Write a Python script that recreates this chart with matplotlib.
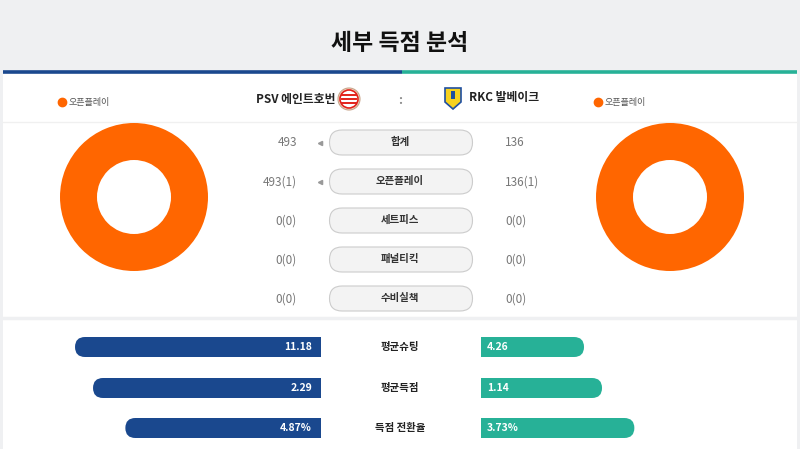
import matplotlib
matplotlib.use("Agg")
import matplotlib.pyplot as plt
from matplotlib.patches import FancyBboxPatch, Rectangle, Circle, Polygon

plt.rcParams['font.family'] = ['Noto Sans CJK KR', 'DejaVu Sans']

# --------------------------------- Data -------------------------------- #
title = "세부 득점 분석"
home_team = "PSV 에인트호번"
away_team = "RKC 발베이크"

# score breakdown (middle table)
categories = ["합계", "오픈플레이", "세트피스", "패널티킥", "수비실책"]
home_labels = ["493", "493(1)", "0(0)", "0(0)", "0(0)"]
away_labels = ["136", "136(1)", "0(0)", "0(0)", "0(0)"]
arrow_rows = [True, True, False, False, False]   # little pointer next to home value

# donut data (goal types)
donut_types = ["오픈플레이", "세트피스", "패널티킥", "수비실책"]
home_donut = [493, 0, 0, 0]
away_donut = [136, 0, 0, 0]
donut_colors = ["#ff6600", "#2f6fbd", "#f4b400", "#8e8e8e"]

# average stats (bottom bars)
stat_names = ["평균슈팅", "평균득점", "득점 전환율"]
home_stats = [11.18, 2.29, 4.87]
away_stats = [4.26, 1.14, 3.73]
stat_fmt = ["{:.2f}", "{:.2f}", "{:.2f}%"]

# --------------------------------- Style -------------------------------- #
BLUE = "#1a488e"
TEAL = "#27b197"
BG = "#eff0f2"
BAR_MIN = 15      # px, minimum bar length
BAR_SCALE = 319   # px for a 100% share

fig = plt.figure(figsize=(8, 4.49), dpi=100)
fig.patch.set_facecolor(BG)
ax = fig.add_axes([0, 0, 1, 1])

# white panel
ax.add_patch(Rectangle((3, 73), 794, 380, facecolor="white", edgecolor="none", zorder=0))
# team coloured line
ax.plot([3, 402], [72, 72], color=BLUE, lw=2.6, solid_capstyle="butt", zorder=2)
ax.plot([402, 797], [72, 72], color=TEAL, lw=2.6, solid_capstyle="butt", zorder=2)
# separators
ax.plot([3, 797], [122, 122], color="#f0f0f0", lw=1, zorder=1)
ax.plot([3, 797], [317.5, 317.5], color="#eff0f2", lw=2.5, zorder=1)

ax.text(400, 43, title, ha="center", va="center", fontsize=16.5, fontweight="bold", color="#111111")

# header
ax.text(336, 99, home_team, ha="right", va="center", fontsize=8.5, fontweight="bold", color="#222222")
ax.text(400, 100, ":", ha="center", va="center", fontsize=9, fontweight="bold", color="#888888")
ax.text(469, 98, away_team, ha="left", va="center", fontsize=8.5, fontweight="bold", color="#222222")

# PSV badge (simple)
ax.add_patch(Circle((349, 99), 11, facecolor="#f3d9c8", edgecolor="#c9a58a", lw=0.8, zorder=3))
ax.add_patch(Circle((349, 99), 9, facecolor="white", edgecolor="#e2231a", lw=1.2, zorder=4))
for dy in (-4, 0, 4):
    ax.plot([342, 356], [99 + dy, 99 + dy], color="#e2231a", lw=1.4, zorder=5)
# RKC badge (simple shield)
ax.add_patch(Polygon([(445, 88), (461, 88), (461, 102), (453, 109), (445, 102)],
                     closed=True, facecolor="#f7d21e", edgecolor="#1f4fa0", lw=1.2, zorder=3))
ax.add_patch(Rectangle((451, 91), 4, 8, facecolor="#1f4fa0", edgecolor="none", zorder=4))

# donut legends
for x0 in (62, 598):
    ax.plot(x0, 102, "o", color=donut_colors[0], markersize=6, zorder=3)
    ax.text(x0 + 7, 102, donut_types[0], ha="left", va="center", fontsize=6.5, color="#555555")

# donuts
for cx, vals in ((134, home_donut), (670, away_donut)):
    sizes = [v for v in vals if v > 0]
    cols = [c for v, c in zip(vals, donut_colors) if v > 0]
    ax.pie(sizes, colors=cols, radius=74, center=(cx, 197), startangle=90, counterclock=False,
           wedgeprops=dict(width=37, edgecolor="none"), frame=True)

# middle table
row_y0, row_step = 143, 39
for i, cat in enumerate(categories):
    y = row_y0 + i * row_step
    ax.add_patch(FancyBboxPatch((342, y - 0.5), 118, 0, boxstyle="round,pad=12.5",
                                facecolor="#f3f3f3", edgecolor="#cccccc", lw=0.8, zorder=2))
    ax.text(400, y - 1, cat, ha="center", va="center", fontsize=7.5, fontweight="bold",
            color="#333333", zorder=3)
    ax.text(297, y, home_labels[i], ha="right", va="center", fontsize=8.5, color="#777777")
    ax.text(505, y, away_labels[i], ha="left", va="center", fontsize=8.5, color="#777777")
    if arrow_rows[i]:
        ax.plot(320, y, marker="<", color="#999999", markersize=3, zorder=3)

# bottom bars
bar_rows = [347, 388, 428]
bar_h = 20
r = bar_h / 2
for i, name in enumerate(stat_names):
    y = bar_rows[i]
    total = home_stats[i] + away_stats[i]
    lh = BAR_MIN + BAR_SCALE * home_stats[i] / total
    la = BAR_MIN + BAR_SCALE * away_stats[i] / total
    # home bar: rounded on the left end, square at the centre side
    ax.add_patch(FancyBboxPatch((321 - lh + r, y), lh - 2 * r, 0, boxstyle=f"round,pad={r}",
                                facecolor=BLUE, edgecolor="none", zorder=2))
    ax.barh(y, lh / 2, left=321 - lh / 2, height=bar_h, color=BLUE, zorder=2, snap=False)
    # away bar: rounded on the right end
    ax.add_patch(FancyBboxPatch((481 + r, y), la - 2 * r, 0, boxstyle=f"round,pad={r}",
                                facecolor=TEAL, edgecolor="none", zorder=2))
    ax.barh(y, la / 2, left=481, height=bar_h, color=TEAL, zorder=2, snap=False)

    ax.text(312, y, stat_fmt[i].format(home_stats[i]), ha="right", va="center", fontsize=7.5,
            fontweight="bold", color="white", zorder=3)
    ax.text(487, y, stat_fmt[i].format(away_stats[i]), ha="left", va="center", fontsize=7.5,
            fontweight="bold", color="white", zorder=3)
    ax.text(400, y, name, ha="center", va="center", fontsize=7.5, fontweight="bold", color="#222222")

ax.set_xlim(0, 800)
ax.set_ylim(449, 0)
ax.set_aspect("auto")
ax.axis("off")

fig.savefig("out.png", dpi=100, facecolor=BG)
